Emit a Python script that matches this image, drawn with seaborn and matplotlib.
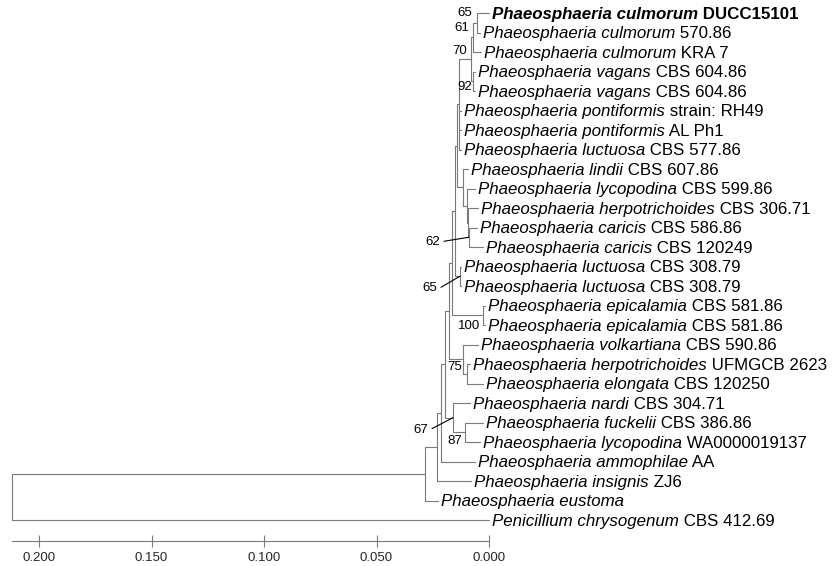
import matplotlib
matplotlib.use("Agg")
import matplotlib.pyplot as plt
import pandas as pd
import seaborn as sns

# tips, top to bottom
tip_names = [
    "Phaeosphaeria culmorum", "Phaeosphaeria culmorum", "Phaeosphaeria culmorum",
    "Phaeosphaeria vagans", "Phaeosphaeria vagans",
    "Phaeosphaeria pontiformis", "Phaeosphaeria pontiformis", "Phaeosphaeria luctuosa",
    "Phaeosphaeria lindii", "Phaeosphaeria lycopodina", "Phaeosphaeria herpotrichoides",
    "Phaeosphaeria caricis", "Phaeosphaeria caricis",
    "Phaeosphaeria luctuosa", "Phaeosphaeria luctuosa",
    "Phaeosphaeria epicalamia", "Phaeosphaeria epicalamia",
    "Phaeosphaeria volkartiana", "Phaeosphaeria herpotrichoides", "Phaeosphaeria elongata",
    "Phaeosphaeria nardi", "Phaeosphaeria fuckelii", "Phaeosphaeria lycopodina",
    "Phaeosphaeria ammophilae", "Phaeosphaeria insignis", "Phaeosphaeria eustoma",
    "Penicillium chrysogenum",
]
tip_strains = [
    "DUCC15101", "570.86", "KRA 7", "CBS 604.86", "CBS 604.86",
    "strain: RH49", "AL Ph1", "CBS 577.86", "CBS 607.86", "CBS 599.86", "CBS 306.71",
    "CBS 586.86", "CBS 120249", "CBS 308.79", "CBS 308.79", "CBS 581.86", "CBS 581.86",
    "CBS 590.86", "UFMGCB 2623", "CBS 120250", "CBS 304.71", "CBS 386.86",
    "WA0000019137", "AA", "ZJ6", "", "CBS 412.69",
]
tip_parent = [
    "c65", "c65", "c61", "v92", "v92", "n1", "n1", "n1", "p", "q", "r", "s", "s",
    "m", "m", "k", "k", "h", "j", "j", "e", "g", "g", "c", "b", "a", "root",
]
# distance read on the scale bar (0.000 = right end)
tip_dist = [
    0.0000, 0.0040, 0.0036, 0.0062, 0.0062, 0.0124, 0.0124, 0.0124, 0.0093,
    0.0062, 0.0049, 0.0053, 0.0027, 0.0124, 0.0124, 0.0018, 0.0018, 0.0049,
    0.0084, 0.0027, 0.0084, 0.0027, 0.0040, 0.0062, 0.0080, 0.0227, 0.0000,
]

# internal nodes
node_names = ["root", "a", "b", "c", "d", "e", "g", "f", "h", "j", "i", "k",
              "l", "m", "n2", "n1", "o", "c61", "c65", "v92", "p", "q", "r", "s"]
node_parent = [None, "root", "a", "b", "c", "d", "e", "d", "f", "h", "f", "i",
               "i", "l", "l", "n2", "n1", "o", "c61", "o", "n2", "p", "q", "r"]
node_dist = [0.2120, 0.0284, 0.0231, 0.0213, 0.0196, 0.0160, 0.0107, 0.0178,
             0.0116, 0.0098, 0.0164, 0.0027, 0.0151, 0.0129, 0.0142, 0.0133,
             0.0080, 0.0071, 0.0053, 0.0071, 0.0116, 0.0098, 0.0093, 0.0089]

boot_nodes = ["c65", "c61", "o", "v92", "s", "m", "k", "h", "e", "g"]
boot_values = [65, 61, 70, 92, 62, 65, 100, 75, 67, 87]

scale_ticks = [0.200, 0.150, 0.100, 0.050, 0.000]

# label offsets in pixels (dx, dy screen-down) and whether a pointer line is drawn
boot_offsets = [(-5, -10), (-4, -9), (-4, -8), (-1, 6), (-29, 5), (-23, 12),
                (-3, 11), (-1, 8), (-25, 12), (-3, 9)]
boot_pointer = [False, False, False, False, True, True, False, False, True, False]

PX = 2250.0      # pixels per unit of distance
ROW = 19.5       # pixels per row
LINE = "#7a7a7a"

sns.set_theme(style="white")
plt.rcParams["font.family"] = ["Liberation Sans", "DejaVu Sans"]

# ---- layout: y of every node ----
dist = dict(zip(node_names, node_dist))
ypos = {}
children = {n: [] for n in node_names}
for i, p in enumerate(tip_parent):
    key = f"t{i}"
    ypos[key] = float(i)
    dist[key] = tip_dist[i]
    children[p].append(key)
for n, p in zip(node_names, node_parent):
    if p is not None:
        children[p].append(n)


def place(n):
    if n in ypos:
        return ypos[n]
    ys = [place(c) for c in children[n]]
    ypos[n] = (min(ys) + max(ys)) / 2
    return ypos[n]


place("root")

segs = []
for n in node_names:
    ys = [ypos[c] for c in children[n]]
    segs.append((dist[n], min(ys), dist[n], max(ys)))
    for c in children[n]:
        segs.append((dist[n], ypos[c], dist[c], ypos[c]))

seg_df = pd.DataFrame(
    [{"seg": k, "x": x, "y": y} for k, (x0, y0, x1, y1) in enumerate(segs)
     for x, y in ((x0, y0), (x1, y1))]
)

fig = plt.figure(figsize=(8.36, 5.66), dpi=100)
ax = fig.add_axes([0, 0, 1, 1])
sns.lineplot(data=seg_df, x="x", y="y", units="seg", estimator=None, sort=False,
             color=LINE, linewidth=0.8, ax=ax, legend=False)

ax.set_xlim(489 / PX, (489 - 836) / PX)
ax.set_ylim((566 - 13) / ROW, -13 / ROW)

# tip labels: italic name + upright strain
for i, (name, strain) in enumerate(zip(tip_names, tip_strains)):
    bold = "bold" if i == 0 else "normal"
    x = tip_dist[i] - 3 / PX
    t = ax.text(x, i + 0.3, name, style="italic", weight=bold, fontsize=12.2,
                ha="left", va="baseline", color="black")
    if strain:
        ax.annotate(" " + strain, xy=(1, i + 0.3), xycoords=(t, "data"),
                    fontsize=12.2, weight=bold, ha="left", va="baseline", color="black")

# bootstrap values
for n, v, (dx, dy), ptr in zip(boot_nodes, boot_values, boot_offsets, boot_pointer):
    nx, ny = dist[n], ypos[n]
    lx, ly = nx - dx / PX, ny + dy / ROW
    ax.text(lx, ly, str(v), fontsize=9.5, ha="right", va="center", color="black")
    if ptr:
        ax.plot([lx - 4 / PX, nx], [ly - 0.05, ny], color="black", linewidth=0.8)

# scale bar on the bottom spine
for s in ["top", "right", "left"]:
    ax.spines[s].set_visible(False)
ax.spines["bottom"].set_position(("data", (541 - 13) / ROW))
ax.spines["bottom"].set_bounds(node_dist[0], 0.0)
ax.spines["bottom"].set_color(LINE)
ax.spines["bottom"].set_linewidth(0.8)
ax.set_xticks(scale_ticks)
ax.set_xticklabels([f"{v:.3f}" for v in scale_ticks], fontsize=9.5)
ax.tick_params(axis="x", direction="inout", length=8, width=0.8, color=LINE, pad=4,
               bottom=True)
ax.set_yticks([])
ax.set_xlabel("")
ax.set_ylabel("")

fig.savefig("out.png", dpi=100)
